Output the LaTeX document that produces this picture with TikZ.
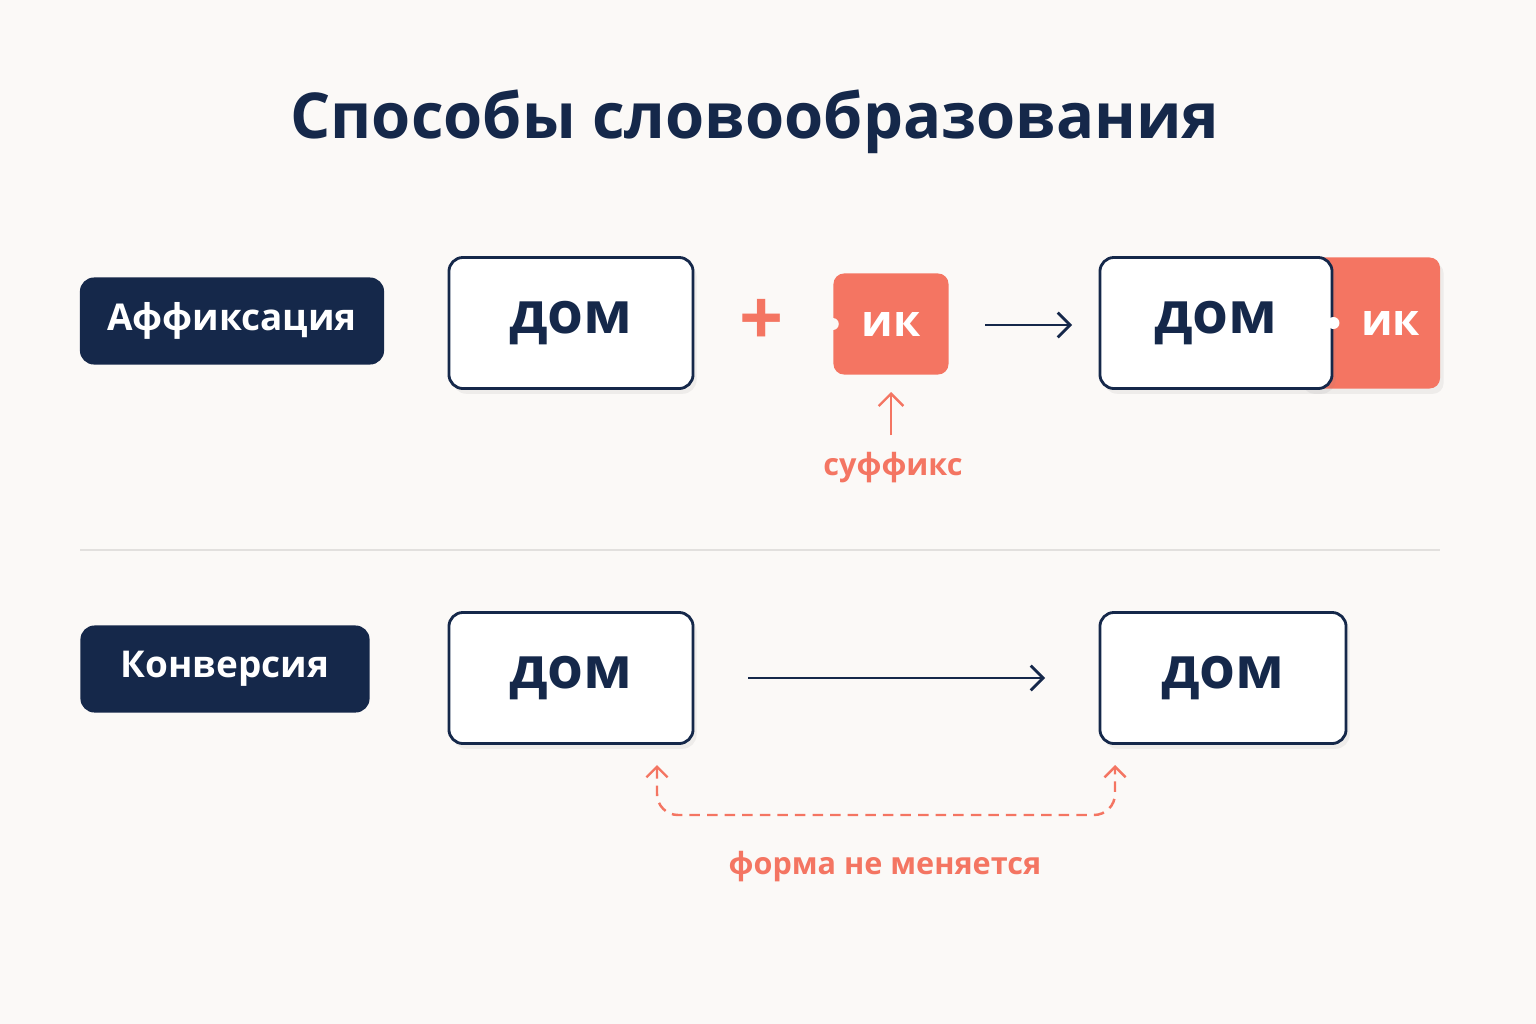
\documentclass[tikz,border=0pt]{standalone}
\usepackage{fontspec}
\setmainfont{Open Sans}
\usetikzlibrary{positioning,arrows.meta,shadows}
\definecolor{navy}{HTML}{15284A}
\definecolor{coral}{HTML}{F47562}
\definecolor{paper}{HTML}{FBF9F7}
\definecolor{rule}{HTML}{E2E0DE}

\begin{document}
\begin{tikzpicture}[x=0.01cm,y=-0.01cm,
 tag/.style={fill=navy,rounded corners=4pt,text=white,font=\fontsize{10.5}{13}\selectfont\bfseries},
 word/.style={draw=navy,line width=0.8pt,fill=white,rounded corners=4pt,
        drop shadow={shadow xshift=1pt,shadow yshift=-1.5pt,opacity=0.1},
        font=\fontsize{16.5}{20}\selectfont\bfseries,text=navy},
 piece/.style={fill=coral,rounded corners=3pt,text=white,font=\fontsize{12.5}{15}\selectfont\bfseries},
 note/.style={text=coral,font=\fontsize{8.7}{11}\selectfont\bfseries},
 arr/.style={-{Straight Barb[length=3.5pt,width=7pt]},line width=0.8pt}]

\fill[paper] (0,0) rectangle (1536,1024);
\useasboundingbox (0,0) rectangle (1536,1024);

\node[text=navy,font=\fontsize{18}{22}\selectfont\bfseries] (title) at (755,122) {Способы словообразования};

% affixation
\node[tag,minimum width=3.04cm,minimum height=0.87cm] (aff) at (232,321) {Аффиксация};
\node[word,minimum width=2.44cm,minimum height=1.31cm] (w1) at (571,323) {дом};
\node[text=coral,font=\fontsize{22}{22}\selectfont\bfseries] (plus) at (762,322) {+};
\node[piece,minimum width=1.15cm,minimum height=1.01cm] (suf) at (891,324) {ик};
\fill[paper] (suf.west) circle (6);
\draw[navy,arr] (985,325) -- (1072,325);
\node[piece,minimum width=1.4cm,minimum height=1.31cm,
      drop shadow={shadow xshift=1pt,shadow yshift=-1.5pt,opacity=0.1},
      text width=1.0cm,align=right] (suf2) at (1370,323) {ик};
\node[word,minimum width=2.32cm,minimum height=1.31cm] (w2) at (1216,323) {дом};
\fill[white] (w2.east) circle (6);
\coordinate (sufb) at (891,392);
\node[note] (suflbl) at (893,468) {суффикс};
\draw[coral,arr,line width=0.7pt] (891,435) -- (sufb);

\draw[rule,line width=0.7pt] (80,550) -- (1440,550);

% conversion
\node[tag,minimum width=2.89cm,minimum height=0.87cm] (conv) at (225,669) {Конверсия};
\node[word,minimum width=2.44cm,minimum height=1.31cm] (w3) at (571,678) {дом};
\node[word,minimum width=2.46cm,minimum height=1.31cm] (w4) at (1223,678) {дом};
\draw[navy,arr] (748,678) -- (1045,678);
\coordinate (l) at (657,765);
\coordinate (r) at (1115,765);
\draw[coral,line width=0.7pt,dash pattern=on 3pt off 2pt,rounded corners=6pt,{Straight Barb[length=3pt,width=6pt]}-{Straight Barb[length=3pt,width=6pt]}]
  (l) -- (657,815) -- (1115,815) -- (r);
\node[note] (same) at (885,867) {форма не меняется};
\end{tikzpicture}
\end{document}
